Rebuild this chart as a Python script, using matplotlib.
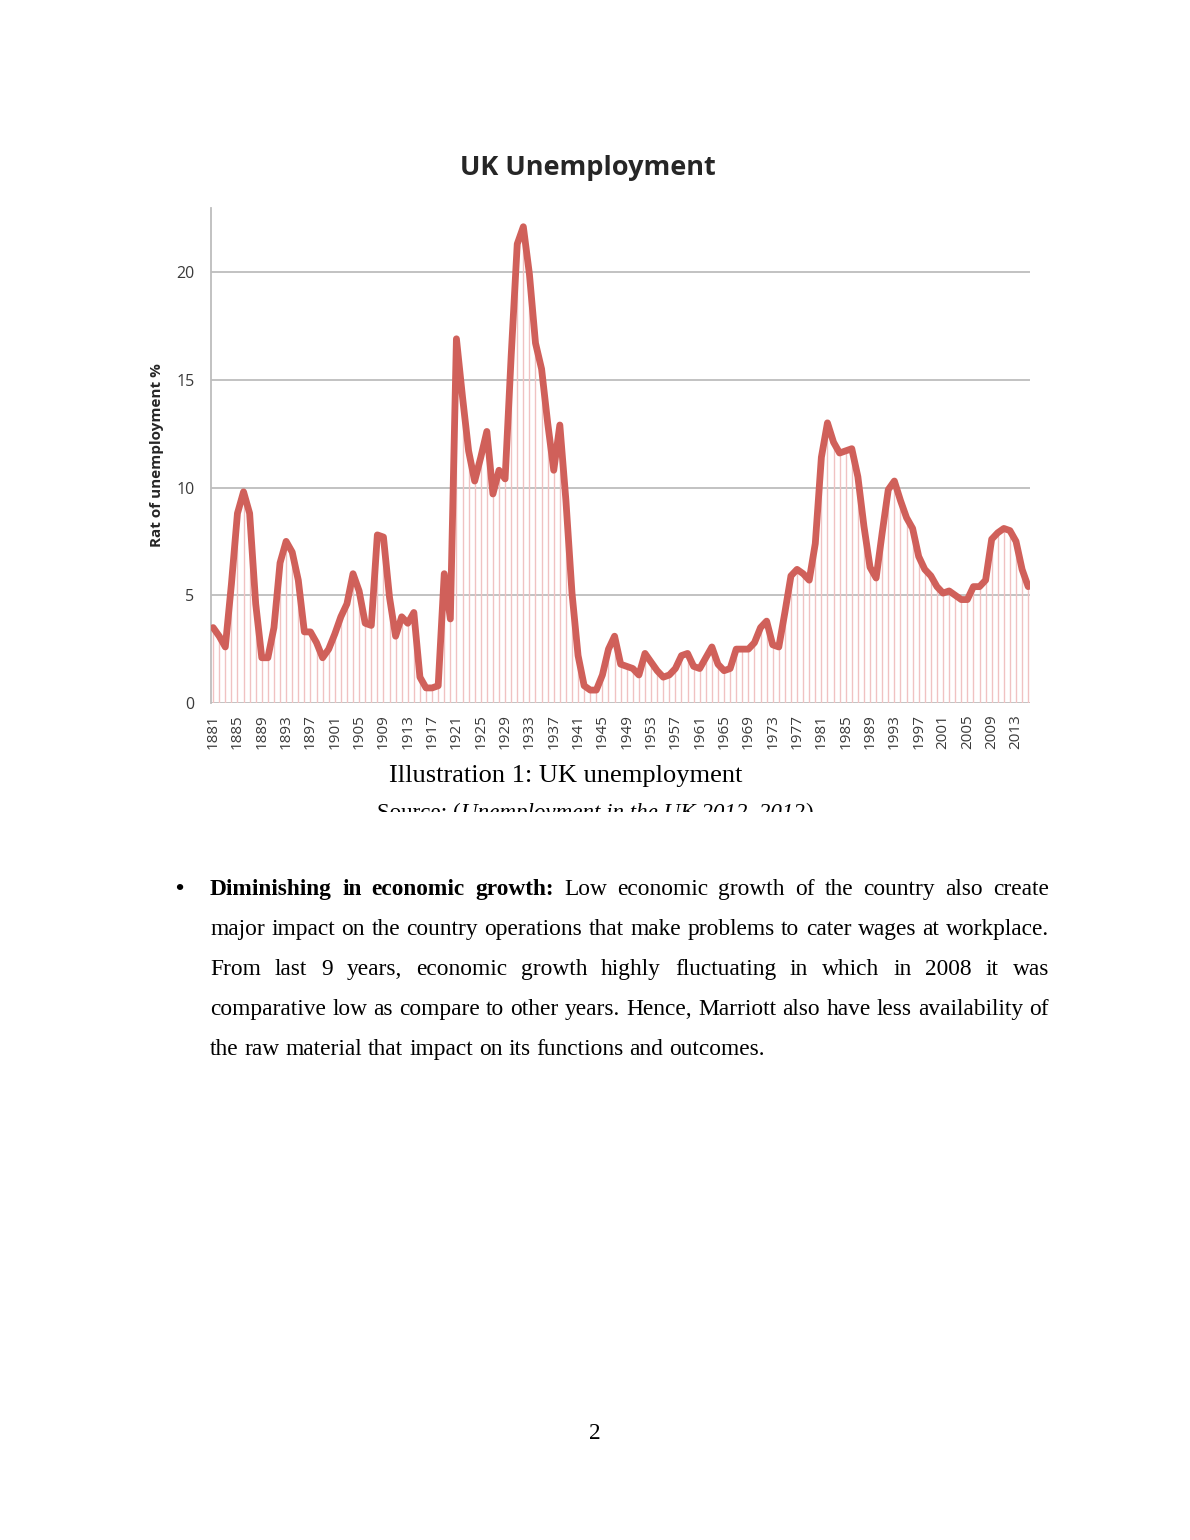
import matplotlib
matplotlib.use("Agg")
import matplotlib.pyplot as plt
from matplotlib.transforms import Bbox, TransformedBbox

# ---------------- data ----------------
years = list(range(1881, 2016))
unemployment = [
    3.5, 3.1, 2.6, 5.5, 8.8, 9.8, 8.8, 4.6, 2.1, 2.1,          # 1881-1890
    3.5, 6.5, 7.5, 7.0, 5.7, 3.3, 3.3, 2.8, 2.1, 2.5,          # 1891-1900
    3.2, 4.0, 4.6, 6.0, 5.2, 3.7, 3.6, 7.8, 7.7, 4.9,          # 1901-1910
    3.1, 4.0, 3.7, 4.2, 1.2, 0.7, 0.7, 0.8, 6.0, 3.9,          # 1911-1920
    16.9, 14.2, 11.7, 10.3, 11.4, 12.6, 9.7, 10.8, 10.4, 16.1, # 1921-1930
    21.3, 22.1, 19.9, 16.7, 15.5, 13.0, 10.8, 12.9, 9.4, 5.1,  # 1931-1940
    2.2, 0.8, 0.6, 0.6, 1.3, 2.5, 3.1, 1.8, 1.7, 1.6,          # 1941-1950
    1.3, 2.3, 1.9, 1.5, 1.2, 1.3, 1.6, 2.2, 2.3, 1.7,          # 1951-1960
    1.6, 2.1, 2.6, 1.8, 1.5, 1.6, 2.5, 2.5, 2.5, 2.8,          # 1961-1970
    3.5, 3.8, 2.7, 2.6, 4.2, 5.9, 6.2, 6.0, 5.7, 7.4,          # 1971-1980
    11.4, 13.0, 12.1, 11.6, 11.7, 11.8, 10.5, 8.2, 6.3, 5.8,   # 1981-1990
    7.9, 9.9, 10.3, 9.4, 8.6, 8.1, 6.8, 6.2, 5.9, 5.4,         # 1991-2000
    5.1, 5.2, 5.0, 4.8, 4.8, 5.4, 5.4, 5.7, 7.6, 7.9,          # 2001-2010
    8.1, 8.0, 7.5, 6.2, 5.4,                                   # 2011-2015
]
tick_years = list(range(1881, 2014, 4))
yticks = [0, 5, 10, 15, 20]

chart_title = "UK Unemployment"
y_label = "Rat of unemployment %"
caption = "Illustration 1: UK unemployment"
source_parts = [("Source: (", "normal"), ("Unemployment in the UK 2012, 2012", "italic"), (")", "normal")]
para_lines = [
    [("Diminishing in economic growth:", "bold"), ("Low economic growth of the country also create", "normal")],
    [("major impact on the country operations that make problems to cater wages at workplace.", "normal")],
    [("From last 9 years, economic growth highly fluctuating in which in 2008 it was", "normal")],
    [("comparative low as compare to other years. Hence, Marriott also have less availability of", "normal")],
    [("the raw material that impact on its functions and outcomes.", "normal")],
]
page_number = "2"

# ---------------- figure ----------------
W, H = 1190, 1540
fig = plt.figure(figsize=(W / 100, H / 100), dpi=100)
fig.patch.set_facecolor("white")

def fx(x):
    return x / W

def fy(y):
    return 1 - y / H

chart_font = ["Open Sans", "DejaVu Sans"]
serif = ["Liberation Serif", "DejaVu Serif"]

ax = fig.add_axes([fx(211), fy(703), fx(1030) - fx(211), fy(208) - fy(703)])
ax.set_xlim(1880.65, 2015.3)
ax.set_ylim(0, 22.97)

line_color = "#D0605A"
ax.vlines(years, 0, unemployment, color="#F0C2C2", lw=1.0, zorder=2)
ax.plot(years, unemployment, color=line_color, lw=4.9, solid_joinstyle="round",
        solid_capstyle="round", zorder=3)

ax.set_yticks(yticks)
ax.set_yticklabels([str(v) for v in yticks], fontsize=11.5, color="#3A3A3A", family=chart_font)
ax.set_xticks(tick_years)
ax.set_xticklabels([str(v) for v in tick_years], rotation=90, fontsize=11,
                   color="#3A3A3A", family=chart_font)
ax.tick_params(axis="y", length=0, pad=12)
ax.tick_params(axis="x", length=0, pad=8)
for v in yticks:
    ax.axhline(v, color="#BDBDBD", lw=1.3, zorder=1)
for s in ["top", "right", "bottom"]:
    ax.spines[s].set_visible(False)
ax.spines["left"].set_color("#BDBDBD")
ax.spines["left"].set_linewidth(1.3)
ax.set_ylabel(y_label, fontsize=11, fontweight="bold", family=chart_font, color="#262626",
              labelpad=9)

fig.text(fx(588), fy(168), chart_title, ha="center", va="center", fontsize=19.5,
         fontweight="bold", family=chart_font, color="#262626")

# ---------------- document text ----------------
fig.canvas.draw()
renderer = fig.canvas.get_renderer()
TS = 16.8

def style_kw(style, size):
    kw = dict(fontsize=size, family=serif)
    if style == "bold":
        kw["fontweight"] = "bold"
    if style == "italic":
        kw["fontstyle"] = "italic"
    return kw

def text_width(s, style, size=TS):
    t = fig.text(0, 0, s, **style_kw(style, size))
    w = t.get_window_extent(renderer).width
    t.remove()
    return w

def put(x, y, s, style, size=TS, clip=None):
    t = fig.text(fx(x), fy(y), s, va="baseline", ha="left", color="black",
                 **style_kw(style, size))
    if clip is not None:
        t.set_clip_box(clip)
        t.set_clip_on(True)
    return t

fig.text(fx(566), fy(782), caption, ha="center", va="baseline", fontsize=19.0, family=serif)

# source line, clipped in its lower part as in the page image
SS = 16.6
clip = TransformedBbox(Bbox([[0, fy(812)], [1, 1]]), fig.transFigure)
widths = [text_width(s, st, SS) for s, st in source_parts]
total = sum(widths)
x0 = 595 - total / 2
for (s, st), w in zip(source_parts, widths):
    put(x0, 819, s, st, SS, clip)
    x0 += w

# bullet paragraph, justified
left, right = 210, 1049
baselines = [895, 935, 975, 1015, 1055]
put(175, 895, "\u2022", "bold")
for i, (line, by) in enumerate(zip(para_lines, baselines)):
    words = []
    for seg, st in line:
        for w in seg.split(" "):
            words.append((w, st))
    ws = [text_width(w, st) for w, st in words]
    last = i == len(para_lines) - 1
    if last:
        gap = text_width(" ", "normal")
    else:
        gap = (right - left - sum(ws)) / (len(words) - 1)
    x = left
    for (w, st), wd in zip(words, ws):
        put(x, by, w, st)
        x += wd + gap

fig.text(fx(595), fy(1439), page_number, ha="center", va="baseline", fontsize=TS, family=serif)

fig.savefig("out.png", dpi=100, facecolor="white")
